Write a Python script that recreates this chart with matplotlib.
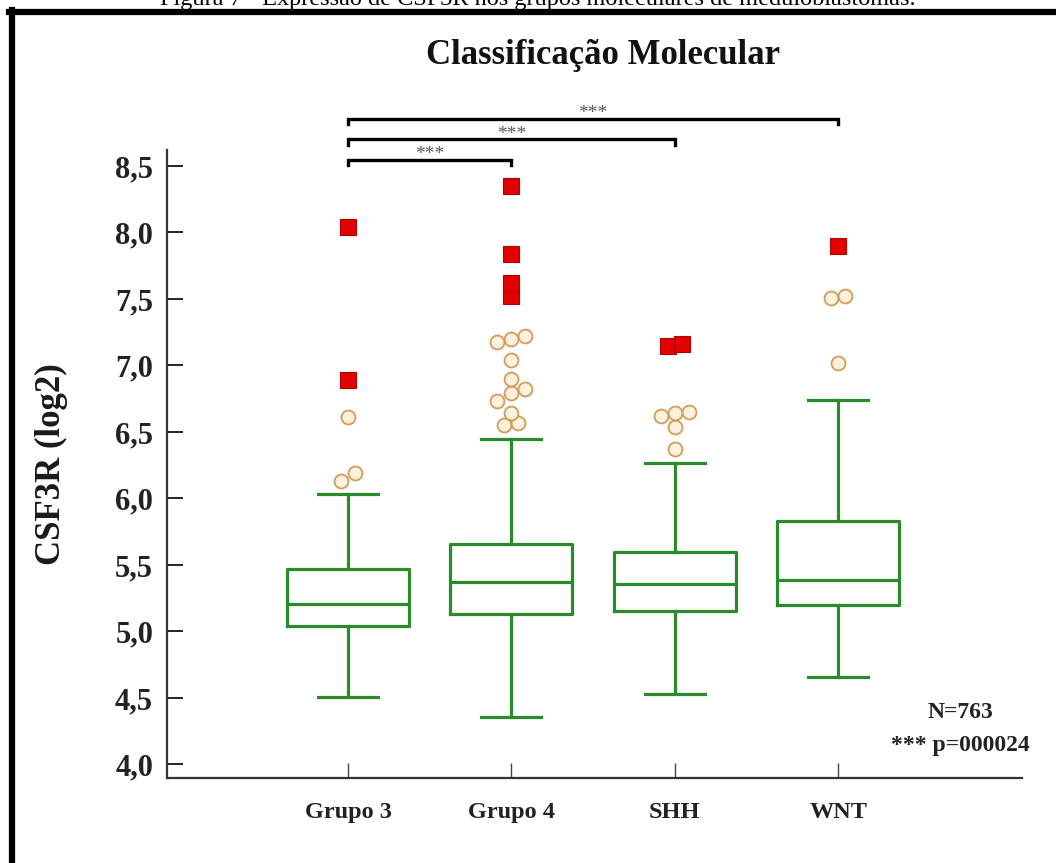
import matplotlib as mpl
import matplotlib.pyplot as plt
from matplotlib.lines import Line2D
import numpy as np


plt.rcParams['font.family'] = 'Liberation Serif'

# values (CSF3R, log2)
GROUPS = ['Grupo 3', 'Grupo 4', 'SHH', 'WNT']
WHISK_LO = [4.51, 4.36, 4.53, 4.66]
Q1 = [5.04, 5.13, 5.15, 5.20]
MEDIAN = [5.21, 5.37, 5.36, 5.39]
Q3 = [5.47, 5.66, 5.60, 5.83]
WHISK_HI = [6.03, 6.45, 6.27, 6.74]

OUTLIERS = [
    [6.13, 6.19, 6.61],
    [6.55, 6.57, 6.64, 6.73, 6.79, 6.82, 6.90, 7.04, 7.18, 7.20, 7.22],
    [6.37, 6.54, 6.62, 6.64, 6.65],
    [7.02, 7.51, 7.52],
]
EXTREMES = [
    [6.89, 8.04],
    [7.52, 7.62, 7.84, 8.35],
    [7.15, 7.16],
    [7.90],
]

# significance comparisons (1-based group index)
PAIRS = [(1, 2), (1, 3), (1, 4)]
PAIR_LEVEL = [8.545, 8.70, 8.853]
PAIR_LABEL = ['***', '***', '***']

N_TEXT = 'N=763'
P_TEXT = '*** p=000024'

GREEN = '#2b8a2b'


def dodge(values, thresh=0.065, step=0.085):
    vals = sorted(values)
    res = []
    cluster = [vals[0]]
    for v in vals[1:]:
        if v - cluster[-1] < thresh:
            cluster.append(v)
        else:
            res.append(cluster)
            cluster = [v]
    res.append(cluster)
    offs, ys = [], []
    for c in res:
        n = len(c)
        for i, v in enumerate(c):
            offs.append((i - (n - 1) / 2) * step)
            ys.append(v)
    return np.array(offs), np.array(ys)


def main():
    W, H = 1056, 863
    fig = plt.figure(figsize=(W / 100, H / 100), dpi=100)
    ax = fig.add_axes([167 / W, 85 / H, 855 / W, 628 / H])

    pos = np.arange(1, len(GROUPS) + 1)
    stats = []
    for i, g in enumerate(GROUPS):
        stats.append(dict(label=g, whislo=WHISK_LO[i], q1=Q1[i], med=MEDIAN[i],
                          q3=Q3[i], whishi=WHISK_HI[i], fliers=[]))

    line = dict(color=GREEN, linewidth=2.3)
    ax.bxp(stats, positions=pos, widths=0.746, capwidths=0.367,
           showfliers=False, boxprops=line, whiskerprops=line,
           capprops=line, medianprops=line, manage_ticks=False)

    for i in range(len(GROUPS)):
        dx, ys = dodge(OUTLIERS[i])
        ax.plot(pos[i] + dx, ys, 'o', ms=10, mfc='#fdf1dc', mec='#d49a5a',
                mew=1.3, zorder=4, clip_on=False)
        dx, ys = dodge(EXTREMES[i])
        ax.plot(pos[i] + dx, ys, 's', ms=11, mfc='#e30000', mec='#b00000',
                mew=0.8, zorder=5, clip_on=False)

    # significance brackets
    for (a, b), lvl, lab in zip(PAIRS, PAIR_LEVEL, PAIR_LABEL):
        h = 0.04
        ax.plot([a, a, b, b], [lvl - h, lvl, lvl, lvl - h], color='black',
                lw=2.4, clip_on=False, solid_joinstyle='miter')
        ax.text((a + b) / 2, lvl + 0.005, lab, ha='center', va='baseline',
                fontsize=14, color='#555555', clip_on=False)

    ax.set_xlim(-0.107, 5.124)
    ax.set_ylim(3.898, 8.62)

    yt = np.arange(4.0, 8.51, 0.5)
    ax.set_yticks(yt)
    ax.set_yticklabels([f'{v:.1f}'.replace('.', ',') for v in yt],
                       fontsize=22, fontweight='bold')
    ax.set_xticks(pos)
    ax.set_xticklabels(GROUPS, fontsize=17.5, fontweight='bold')

    ax.tick_params(axis='y', direction='in', length=11.5, width=1.4,
                   pad=10, colors='#222222')
    ax.tick_params(axis='x', direction='in', length=11, width=1.0,
                   pad=17, colors='#444444')
    ax.tick_params(axis='x', labelcolor='#222222')

    for side in ['top', 'right']:
        ax.spines[side].set_visible(False)
    for side in ['left', 'bottom']:
        ax.spines[side].set_linewidth(1.6)
        ax.spines[side].set_color('#333333')

    ax.set_ylabel('CSF3R (log2)', fontsize=25, fontweight='bold',
                  color='#1a1a1a')
    ax.yaxis.set_label_coords(-0.116, 0.5)

    fig.text(603 / W, 1 - 56 / H, 'Classificação Molecular', ha='center',
             va='center', fontsize=25, fontweight='bold', color='#111111')

    fig.text(960 / W, 1 - 712 / H, N_TEXT, ha='center', va='center',
             fontsize=17, fontweight='bold', color='#222222')
    fig.text(960 / W, 1 - 745 / H, P_TEXT, ha='center', va='center',
             fontsize=17, fontweight='bold', color='#222222')

    # caption (cut off at the top of the page, as in the source) and page frame
    fig.text(538 / W, 1 - 5 / H,
             'Figura 7 - Expressão de CSF3R nos grupos moleculares de meduloblastomas.',
             ha='center', va='baseline', fontsize=17.5, color='black')
    fig.add_artist(Line2D([12 / W, 12 / W], [0, 1 - 10 / H],
                          transform=fig.transFigure, color='black', lw=4.5))
    fig.add_artist(Line2D([9 / W, 1], [1 - 12.5 / H, 1 - 12.5 / H],
                          transform=fig.transFigure, color='black', lw=4.5))

    fig.savefig('out.png', dpi=100)
    plt.close(fig)


if __name__ == '__main__':
    main()
